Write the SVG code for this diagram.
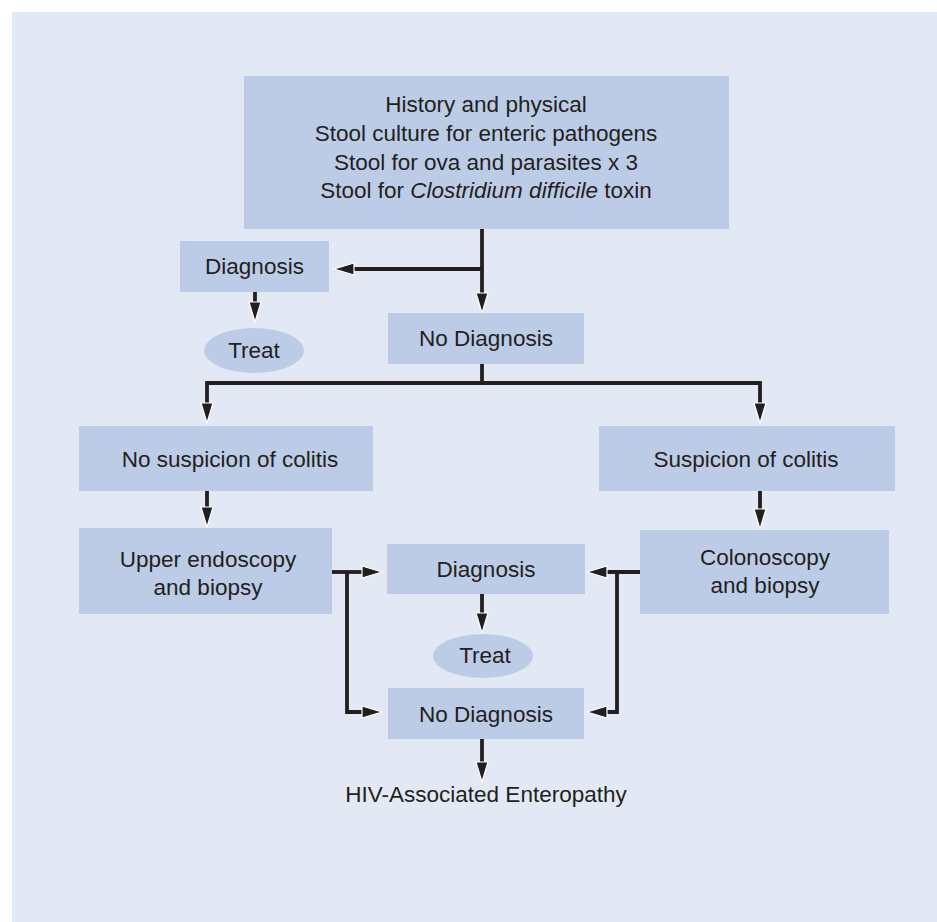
<svg xmlns="http://www.w3.org/2000/svg" width="937" height="922" viewBox="0 0 937 922">
  <style>
    .box { fill: #bdcce6; }
    .lbl { font-family: "Liberation Sans", Arial, sans-serif; font-size: 22.5px; fill: #231f20; text-anchor: middle; }
    .wire { fill: none; stroke: #231f20; stroke-width: 3.8; }
  </style>
  <defs>
    <marker id="arrow" markerUnits="userSpaceOnUse" markerWidth="24" markerHeight="18" viewBox="-2 -9 24 18" refX="1" refY="0" orient="auto">
      <path d="M0,-6 L20,0 L0,6 Z" fill="#231f20" stroke="#ffffff" stroke-width="1.2" stroke-linejoin="miter"/>
    </marker>
  </defs>

  <!-- page panel -->
  <rect x="0" y="0" width="937" height="922" fill="#ffffff"/>
  <rect x="12" y="12" width="925" height="910" fill="#e2e9f4"/>

  <!-- connectors -->
  <g id="connectors" class="wire" marker-end="url(#arrow)">
    <path d="M482,229 V294"/>
    <path d="M482,269 H353"/>
    <path d="M255,292 V303"/>
    <path d="M482,364 V384" marker-end="none"/>
    <path d="M207,383 H760" marker-end="none"/>
    <path d="M207,381.1 V404"/>
    <path d="M760,381.1 V404"/>
    <path d="M207,491 V508"/>
    <path d="M760,491 V510"/>
    <path d="M332,572 H363"/>
    <path d="M347,572 V712 H363"/>
    <path d="M640,572 H606"/>
    <path d="M617,572 V712 H606"/>
    <path d="M482,594 V614"/>
    <path d="M482,739 V763"/>
  </g>

  <!-- initial work-up -->
  <g id="workup">
    <rect class="box" x="244" y="76" width="485" height="153"/>
    <text class="lbl" x="486" y="112">History and physical</text>
    <text class="lbl" x="486" y="141">Stool culture for enteric pathogens</text>
    <text class="lbl" x="486" y="170">Stool for ova and parasites x 3</text>
    <text class="lbl" x="486" y="198">Stool for <tspan font-style="italic">Clostridium difficile</tspan> toxin</text>
  </g>

  <g id="diagnosis1">
    <rect class="box" x="180" y="241" width="149" height="51"/>
    <text class="lbl" x="254.5" y="274">Diagnosis</text>
  </g>

  <g id="treat1">
    <ellipse class="box" cx="254" cy="350.5" rx="50" ry="22.5"/>
    <text class="lbl" x="254" y="358">Treat</text>
  </g>

  <g id="nodiagnosis1">
    <rect class="box" x="388" y="313" width="196" height="51"/>
    <text class="lbl" x="486" y="346">No Diagnosis</text>
  </g>

  <g id="nocolitis">
    <rect class="box" x="79" y="426" width="294" height="65"/>
    <text class="lbl" x="230" y="467">No suspicion of colitis</text>
  </g>

  <g id="colitis">
    <rect class="box" x="599" y="426" width="296" height="65"/>
    <text class="lbl" x="746" y="467">Suspicion of colitis</text>
  </g>

  <g id="endoscopy">
    <rect class="box" x="79" y="528" width="253" height="86"/>
    <text class="lbl" x="208" y="567">Upper endoscopy</text>
    <text class="lbl" x="208" y="595">and biopsy</text>
  </g>

  <g id="colonoscopy">
    <rect class="box" x="640" y="530" width="249" height="84"/>
    <text class="lbl" x="765" y="565">Colonoscopy</text>
    <text class="lbl" x="765" y="593">and biopsy</text>
  </g>

  <g id="diagnosis2">
    <rect class="box" x="387" y="544" width="198" height="50"/>
    <text class="lbl" x="486" y="577">Diagnosis</text>
  </g>

  <g id="treat2">
    <ellipse class="box" cx="483" cy="656" rx="50" ry="22"/>
    <text class="lbl" x="485" y="663">Treat</text>
  </g>

  <g id="nodiagnosis2">
    <rect class="box" x="388" y="688" width="196" height="51"/>
    <text class="lbl" x="486" y="722">No Diagnosis</text>
  </g>

  <g id="enteropathy">
    <text class="lbl" x="486" y="802">HIV-Associated Enteropathy</text>
  </g>
</svg>
